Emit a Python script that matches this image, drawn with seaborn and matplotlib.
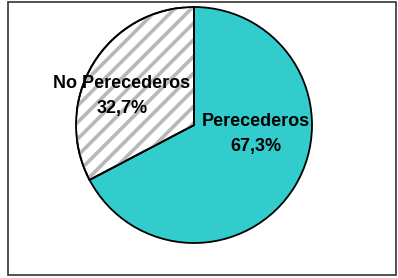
import matplotlib
matplotlib.use('Agg')
import matplotlib.pyplot as plt
import matplotlib.patches as mpatches
import seaborn as sns

# data
categories = ['Perecederos', 'No Perecederos']
shares = [67.3, 32.7]
share_labels = ['67,3%', '32,7%']

sns.set_style('white')
plt.rcParams['font.family'] = ['Liberation Sans', 'DejaVu Sans']
plt.rcParams['hatch.linewidth'] = 2.6

W, H = 398, 278
fig = plt.figure(figsize=(W / 100, H / 100), dpi=100)

# frame around the whole chart
frame = mpatches.Rectangle((8 / W, 3 / H), 388 / W, 273 / H, transform=fig.transFigure,
                           facecolor='none', edgecolor='#333333', linewidth=1.2, zorder=5)
fig.patches.append(frame)

cx, cy, r = 194, 125, 118
ax = fig.add_axes([(cx - r) / W, (H - cy - r) / H, 2 * r / W, 2 * r / H])

colors = ['#33CCCC', 'white']
wedges, _ = ax.pie(shares, colors=colors, startangle=90, counterclock=False,
                   wedgeprops=dict(edgecolor='black', linewidth=1.3))

# hatched overlay for the second slice
w = wedges[1]
hatch = mpatches.Wedge(w.center, w.r, w.theta1, w.theta2, facecolor='none',
                       edgecolor='#b8b8b8', hatch='//', linewidth=0)
ax.add_patch(hatch)
outline = mpatches.Wedge(w.center, w.r, w.theta1, w.theta2, facecolor='none',
                         edgecolor='black', linewidth=1.3)
ax.add_patch(outline)

ax.set_xlim(-1, 1)
ax.set_ylim(-1, 1)
ax.set_aspect('equal')
ax.axis('off')

# label positions (figure pixels)
label_pos = [(256, 134), (122, 96)]
for name, pct, (px, py) in zip(categories, share_labels, label_pos):
    fig.text(px / W, 1 - py / H, f'{name}\n{pct}', ha='center', va='center',
             fontsize=13, fontweight='bold', linespacing=1.55, color='black', zorder=6)

fig.savefig('out.png', dpi=100)
